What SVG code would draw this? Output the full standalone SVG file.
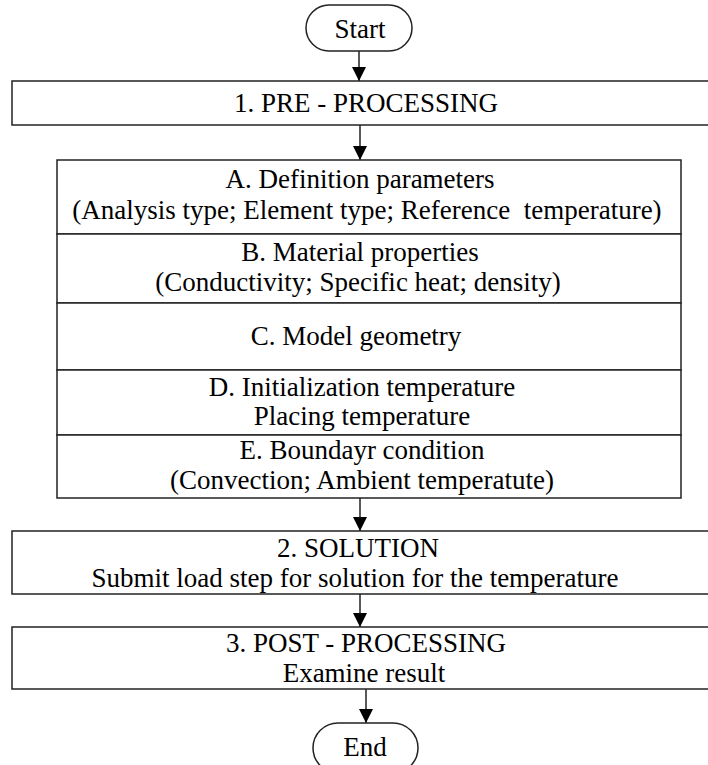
<svg xmlns="http://www.w3.org/2000/svg" width="708" height="765" viewBox="0 0 708 765">
<defs>
<style>
.b{fill:#fff;stroke:#222;stroke-width:1.5}
.l{stroke:#222;stroke-width:1.5;fill:none}
text{font-family:'Liberation Serif','Times New Roman',serif;font-size:27px;fill:#000;text-anchor:middle}
</style>
<marker id="ah" markerUnits="userSpaceOnUse" markerWidth="14" markerHeight="18" refX="14" refY="7" orient="auto" viewBox="0 0 14 14">
<path d="M0,0 L14,7 L0,14 Z" fill="#000"/>
</marker>
</defs>
<rect width="708" height="765" fill="#fff"/>
<g id="connectors">
<line class="l" x1="359" y1="51" x2="359" y2="81" marker-end="url(#ah)"/>
<line class="l" x1="360" y1="125" x2="360" y2="160" marker-end="url(#ah)"/>
<line class="l" x1="360" y1="498" x2="360" y2="531" marker-end="url(#ah)"/>
<line class="l" x1="360" y1="594" x2="360" y2="627" marker-end="url(#ah)"/>
<line class="l" x1="366" y1="689" x2="366" y2="723" marker-end="url(#ah)"/>
</g>
<g id="start">
<rect class="b" x="306" y="5" width="106" height="46" rx="23"/>
<text x="360" y="38">Start</text>
</g>
<g id="preprocessing">
<rect class="b" x="12" y="81" width="710" height="44"/>
<text x="366" y="112">1. PRE - PROCESSING</text>
</g>
<g id="stepA">
<rect class="b" x="57" y="160" width="624" height="74"/>
<text x="360" y="188">A. Definition parameters</text>
<text x="367" y="219" xml:space="preserve">(Analysis type; Element type; Reference  temperature)</text>
</g>
<g id="stepB">
<rect class="b" x="57" y="234" width="624" height="69"/>
<text x="360" y="261">B. Material properties</text>
<text x="358" y="291">(Conductivity; Specific heat; density)</text>
</g>
<g id="stepC">
<rect class="b" x="57" y="303" width="624" height="67"/>
<text x="356" y="345">C. Model geometry</text>
</g>
<g id="stepD">
<rect class="b" x="57" y="370" width="624" height="65"/>
<text x="362" y="396">D. Initialization temperature</text>
<text x="362" y="425">Placing temperature</text>
</g>
<g id="stepE">
<rect class="b" x="57" y="435" width="624" height="63"/>
<text x="362" y="459">E. Boundayr condition</text>
<text x="362" y="489">(Convection; Ambient temperatute)</text>
</g>
<g id="solution">
<rect class="b" x="12" y="531" width="710" height="63"/>
<text x="358" y="557">2. SOLUTION</text>
<text x="355" y="587">Submit load step for solution for the temperature</text>
</g>
<g id="postprocessing">
<rect class="b" x="12" y="627" width="710" height="62"/>
<text x="366" y="652">3. POST - PROCESSING</text>
<text x="364" y="682">Examine result</text>
</g>
<g id="end">
<rect class="b" x="313" y="723" width="105" height="50" rx="25"/>
<text x="365" y="756">End</text>
</g>
</svg>
